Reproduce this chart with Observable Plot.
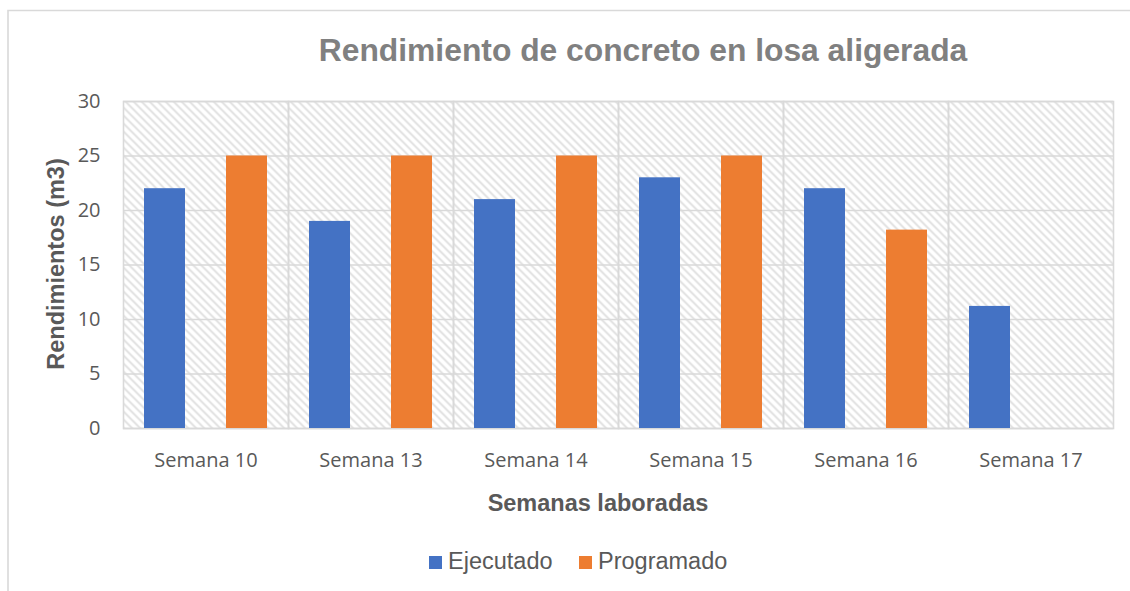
<!DOCTYPE html>
<html>
<head>
<meta charset="utf-8">
<script src="https://cdn.jsdelivr.net/npm/d3@7"></script>
<script src="https://cdn.jsdelivr.net/npm/@observablehq/plot@0.6"></script>
<style>
  html, body { margin: 0; padding: 0; background: #fff; }
  #chart { position: relative; width: 1130px; height: 591px; overflow: hidden; }
</style>
</head>
<body>
<div id="chart"></div>
<script>
const weeks = ["Semana 10", "Semana 13", "Semana 14", "Semana 15", "Semana 16", "Semana 17"];
const series = ["Ejecutado", "Programado"];
const ejecutado = [22, 19, 21, 23, 22, 11.2];
const programado = [25, 25, 25, 25, 18.2, 0];
const yTicks = [0, 5, 10, 15, 20, 25, 30];
const colors = ["#4472C4", "#ED7D31"];
const titleText = "Rendimiento de concreto en losa aligerada";
const yTitle = "Rendimientos (m3)";
const xTitle = "Semanas laboradas";

const data = [];
weeks.forEach((w, i) => {
  data.push({week: w, series: series[0], value: ejecutado[i]});
  data.push({week: w, series: series[1], value: programado[i]});
});

const grid = "#d9d9d9";

const plot = Plot.plot({
  width: 1130,
  height: 591,
  marginLeft: 123,
  marginRight: 17,
  marginTop: 101,
  marginBottom: 163,
  style: {fontFamily: "'Open Sans', sans-serif", fontSize: "20px", color: "#595959", background: "transparent"},
  fx: {domain: weeks, padding: 0, label: null},
  x: {domain: series, axis: null, paddingInner: 0.5, paddingOuter: 0.256},
  y: {domain: [0, 30], label: null},
  color: {domain: series, range: colors},
  marks: [
    Plot.frame({fill: "url(#hatch)", stroke: null}),
    Plot.gridY(yTicks, {stroke: grid, strokeOpacity: 1, strokeWidth: 1.6}),
    Plot.frame({stroke: grid, strokeWidth: 1.6}),
    Plot.barY(data, {fx: "week", x: "series", y: "value", fill: "series"}),
    Plot.axisY({ticks: yTicks, tickSize: 0, tickPadding: 23, label: null, fontSize: 20}),
    Plot.axisFx({anchor: "bottom", tickSize: 0, tickPadding: 24, label: null, fontSize: 20})
  ]
});

const svg = d3.select(plot);
const defs = svg.insert("defs", ":first-child");
const pat = defs.append("pattern")
  .attr("id", "hatch")
  .attr("patternUnits", "userSpaceOnUse")
  .attr("width", 8).attr("height", 8);
pat.append("rect").attr("width", 8).attr("height", 8).attr("fill", "#ffffff");
pat.append("path")
  .attr("d", "M-2,-2 L10,10 M-2,6 L2,10 M6,-2 L10,2")
  .attr("stroke", "#dddddd")
  .attr("stroke-width", 1.7);

// outer chart border
svg.insert("path", ":first-child")
  .attr("d", "M8,600 V10.5 H1140")
  .attr("fill", "none")
  .attr("stroke", "#d9d9d9")
  .attr("stroke-width", 1.6);

const sans = "'Liberation Sans', Arial, sans-serif";

svg.append("text")
  .attr("x", 643).attr("y", 61)
  .attr("text-anchor", "middle")
  .attr("font-family", sans).attr("font-weight", "bold")
  .attr("font-size", 31.8).attr("fill", "#808080")
  .text(titleText);

svg.append("text")
  .attr("transform", "translate(64,264) rotate(-90)")
  .attr("text-anchor", "middle")
  .attr("font-family", sans).attr("font-weight", "bold")
  .attr("font-size", 23.5).attr("fill", "#595959")
  .text(yTitle);

svg.append("text")
  .attr("x", 598).attr("y", 511)
  .attr("text-anchor", "middle")
  .attr("font-family", sans).attr("font-weight", "bold")
  .attr("font-size", 23.5).attr("fill", "#595959")
  .text(xTitle);

// legend
const legendX = [429, 579];
series.forEach((s, i) => {
  svg.append("rect")
    .attr("x", legendX[i]).attr("y", 556)
    .attr("width", 13).attr("height", 13)
    .attr("fill", colors[i]);
  svg.append("text")
    .attr("x", legendX[i] + 19).attr("y", 569)
    .attr("text-anchor", "start")
    .attr("font-family", sans)
    .attr("font-size", 23.5).attr("fill", "#595959")
    .text(s);
});

document.getElementById("chart").appendChild(plot);
</script>
</body>
</html>
